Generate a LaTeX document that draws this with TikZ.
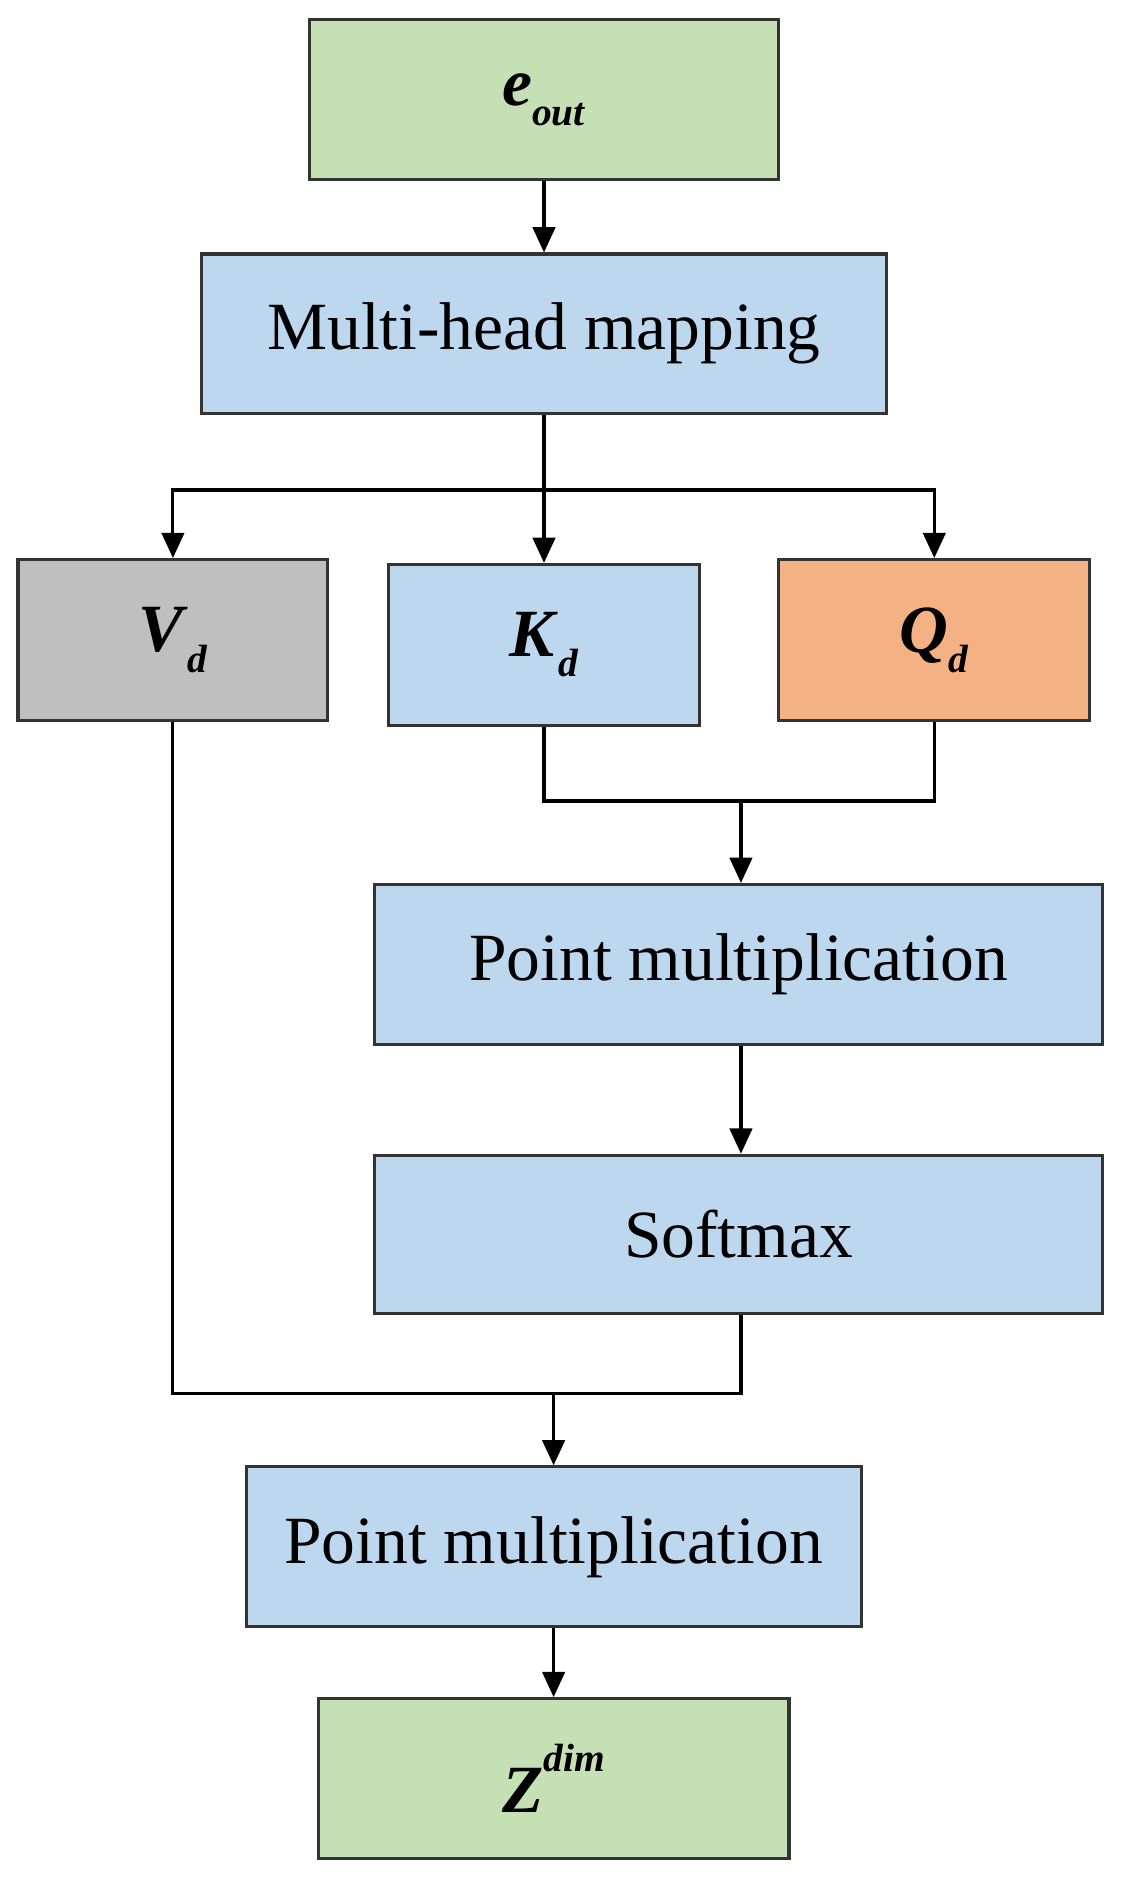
\documentclass[tikz,border=0pt]{standalone}
\usepackage{fontspec}
\setmainfont{Liberation Serif}
\usetikzlibrary{arrows.meta}
\definecolor{gr}{HTML}{C5E0B4}
\definecolor{bl}{HTML}{BDD7EE}
\definecolor{gy}{HTML}{BFBFBF}
\definecolor{or}{HTML}{F4B183}
\newcommand{\bi}[1]{\textbf{\textit{#1}}}
\newcommand{\sbs}[1]{\raisebox{-0.3em}{\fontsize{28}{30}\selectfont\bi{#1}}}
\newcommand{\sps}[1]{\raisebox{0.6em}{\fontsize{28}{30}\selectfont\bi{#1}}}
\begin{document}
\begin{tikzpicture}[x=0.03cm,y=-0.03cm,
 box/.style={draw=black!80,line width=2.2pt,inner sep=0pt,font=\fontsize{48}{56}\selectfont},
 arr/.style={line width=2.2pt,-{Triangle[length=18pt,width=16pt]}},
 ln/.style={line width=2.2pt}]
\useasboundingbox (0,0) rectangle (935,1568);
\node[box,fill=gr,minimum width=390*0.03cm,minimum height=133*0.03cm] (e) at (453,83) {\bi{e}\sbs{out}};
\node[box,fill=bl,minimum width=570*0.03cm,minimum height=133*0.03cm] (mh) at (453,278) {Multi-head mapping};
\node[box,fill=gy,minimum width=258*0.03cm,minimum height=134*0.03cm] (v) at (144,533) {\bi{V}\sbs{d}};
\node[box,fill=bl,minimum width=259*0.03cm,minimum height=134*0.03cm] (k) at (453,537) {\bi{K}\sbs{d}};
\node[box,fill=or,minimum width=259*0.03cm,minimum height=134*0.03cm] (q) at (778,533) {\bi{Q}\sbs{d}};
\node[box,fill=bl,minimum width=606*0.03cm,minimum height=133*0.03cm] (p1) at (615,803) {Point multiplication};
\node[box,fill=bl,minimum width=606*0.03cm,minimum height=132*0.03cm] (s) at (615,1028) {Softmax};
\node[box,fill=bl,minimum width=512*0.03cm,minimum height=133*0.03cm] (p2) at (461,1288) {Point multiplication};
\node[box,fill=gr,minimum width=392*0.03cm,minimum height=133*0.03cm] (z) at (461,1481) {\bi{Z}\sps{dim}};
\coordinate (b1) at (453,408);
\coordinate (b2) at (617,667);
\coordinate (b3) at (461,1160);
\draw[arr] (e) -- (mh);
\draw[ln] (mh.south) -- (b1);
\draw[arr] (b1) -- (k.north);
\draw[arr] (b1) -| (v.north);
\draw[arr] (b1) -| (q.north);
\draw[ln] (k.south) |- (b2) -| (q.south);
\draw[arr] (b2) -- (b2 |- p1.north);
\draw[arr] (b2 |- p1.south) -- (b2 |- s.north);
\draw[ln] (v.south) |- (b3) -| (b2 |- s.south);
\draw[arr] (b3) -- (p2.north);
\draw[arr] (p2) -- (z);
\end{tikzpicture}
\end{document}
